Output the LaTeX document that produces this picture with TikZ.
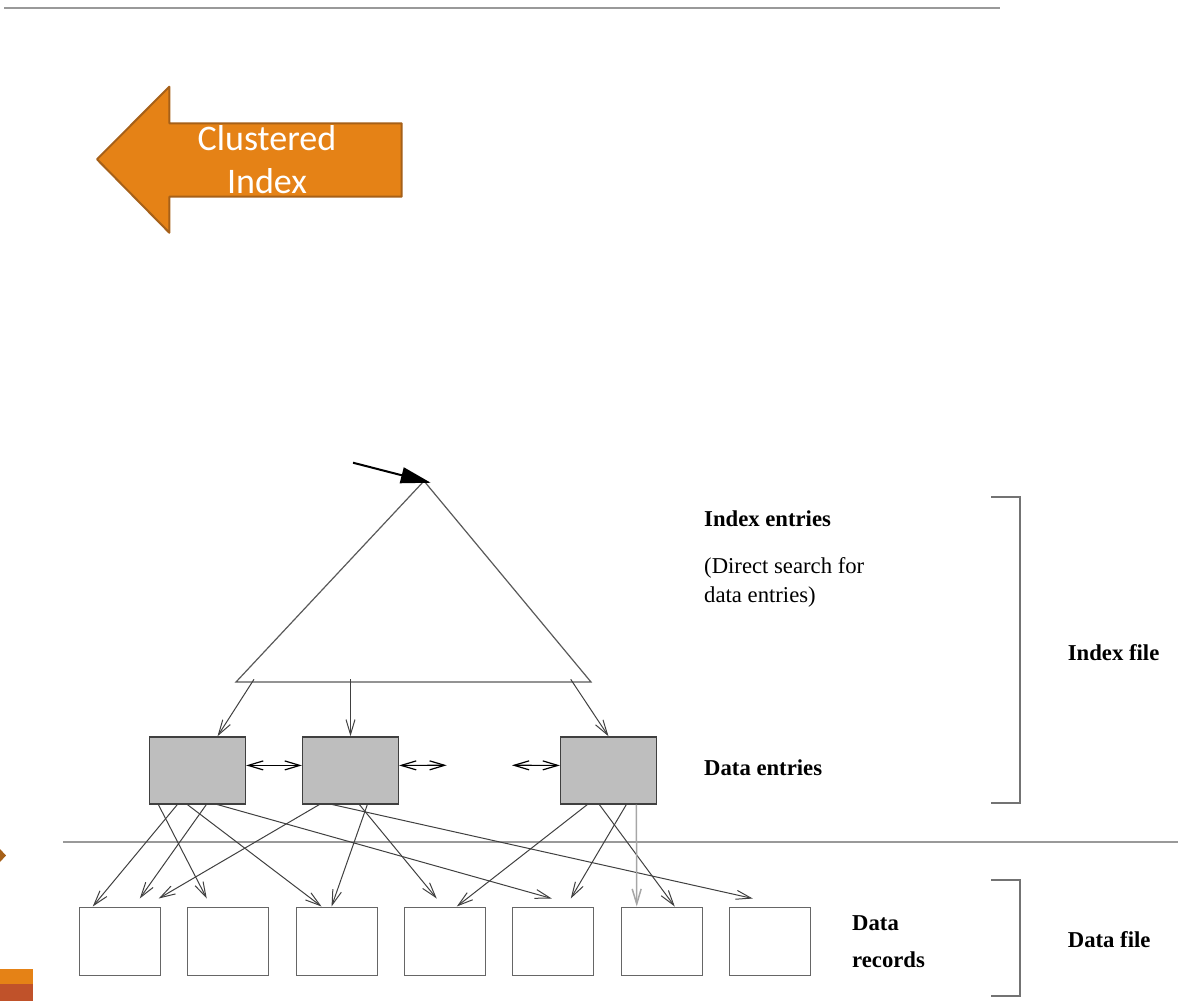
\documentclass[tikz,border=0pt]{standalone}
\usepackage{fontspec}
\setmainfont{Liberation Serif}
\newfontfamily\calfont{Carlito}
\usetikzlibrary{arrows.meta}
\definecolor{clusfill}{RGB}{229,130,22}
\definecolor{clusedge}{RGB}{166,96,24}
\definecolor{barbrown}{RGB}{192,82,42}
\definecolor{entrygray}{RGB}{190,190,190}

\begin{document}
\begin{tikzpicture}[x=1pt, y=-1pt,
    entry/.style={draw=black!75, line width=1.3pt, fill=entrygray, minimum width=96pt, minimum height=67pt, inner sep=0pt},
    record/.style={draw=black!60, line width=1pt, fill=white, minimum width=81pt, minimum height=68pt, inner sep=0pt},
    link/.style={draw=black!75, line width=1pt, -{Straight Barb[length=15pt,width=9pt]}},
    sidelink/.style={draw=black, line width=1.2pt, {Straight Barb[length=15pt,width=9pt]}-{Straight Barb[length=15pt,width=9pt]}},
    lbl/.style={anchor=base west, inner sep=0pt, font=\fontsize{22.7}{29}\selectfont},
    rule/.style={draw=black!40, line width=2pt},
    bracket/.style={draw=black!55, line width=1.5pt},
    ]
    \useasboundingbox (0, 0) rectangle (1178, 1001);
    % slide decoration
    \draw [rule] (4, 8) to (1000, 8);
    \draw [rule] (63, 842) to (1178, 842);
    \fill [clusedge] (0, 849) -- (6, 855.5) -- (0, 862) -- cycle;
    \fill [clusfill] (0, 969) rectangle (33, 984);
    \fill [barbrown] (0, 984) rectangle (33, 1001);
    % big arrow
    \draw [fill=clusfill, draw=clusedge, line width=2pt, line join=round]
        (97, 159.3) -- (169.3, 86.7) -- (169.3, 123.3) -- (401.7, 123.3)
        -- (401.7, 196.7) -- (169.3, 196.7) -- (169.3, 232.7) -- cycle;
    \node [align=center, anchor=base, inner sep=0pt, text=white,
        font=\calfont\fontsize{36}{43.3}\selectfont] (clus) at (267, 193.3) {Clustered\\Index};
    % index tree
    \coordinate (root) at (353, 462.7);
    \coordinate (apex) at (424, 481);
    \coordinate (bl) at (236, 682);
    \coordinate (br) at (591, 682);
    \draw [draw=black!65, line width=1.2pt] (apex) -- (bl) -- (br) -- cycle;
    \draw [line width=2pt, -{Triangle[length=30pt,width=16pt]}, shorten >=-7pt] (root) to (apex);
    % data entries
    \node [entry] (de1) at (197.5, 770.4) {};
    \node [entry] (de2) at (350.5, 770.4) {};
    \node [entry] (de3) at (608.5, 770.4) {};
    \coordinate (b1) at (254, 679.3);
    \coordinate (b2) at (350.5, 679);
    \coordinate (b3) at (570.7, 679.3);
    \draw [link] (b1) to ([xshift=20]de1.north);
    \draw [link] (b2) to (de2.north);
    \draw [link] (b3) to (de3.north);
    \coordinate (gap1) at (446.7, 765.3);
    \coordinate (gap2) at (512, 765.3);
    \draw [sidelink] ([yshift=5]de1.east) to ([yshift=5]de2.west);
    \draw [sidelink] ([yshift=5]de2.east) to (gap1);
    \draw [sidelink] (gap2) to ([yshift=5]de3.west);
    % data records
    \node [record] (rec1) at (119.75, 941) {};
    \node [record] (rec2) at (228.15, 941) {};
    \node [record] (rec3) at (336.55, 941) {};
    \node [record] (rec4) at (444.95, 941) {};
    \node [record] (rec5) at (553.35, 941) {};
    \node [record] (rec6) at (661.75, 941) {};
    \node [record] (rec7) at (770.15, 941) {};
    % entries -> records
    \draw [link] ([xshift=9.5]de1.south west) to ([xshift=19.6,yshift=8]rec2.north west);
    \draw [link] ([xshift=28.5]de1.south west) to ([xshift=14]rec1.north west);
    \draw [link] ([xshift=38.5]de1.south west) to ([xshift=26]rec3.north west);
    \draw [link] ([xshift=57.5]de1.south west) to ([xshift=61,yshift=8]rec1.north west);
    \draw [link] ([xshift=68.5]de1.south west) to ([xshift=39.4,yshift=8]rec5.north west);
    \draw [link] ([xshift=17.5]de2.south west) to ([xshift=80,yshift=8]rec1.north west);
    \draw [link] ([xshift=30.5]de2.south west) to ([xshift=23.6,yshift=8]rec7.north west);
    \draw [link] ([xshift=65.5]de2.south west) to ([xshift=36]rec3.north west);
    \draw [link] ([xshift=57.5]de2.south west) to ([xshift=32.8,yshift=8]rec4.north west);
    \draw [link] ([xshift=27.5]de3.south west) to ([xshift=52.8]rec4.north west);
    \draw [link] ([xshift=39.5]de3.south west) to ([xshift=54]rec6.north west);
    \draw [link] ([xshift=66.5]de3.south west) to ([xshift=58.4,yshift=8]rec5.north west);
    \draw [link, draw=black!35, line width=1.5pt] ([xshift=76.5]de3.south west) to ([xshift=16]rec6.north west);
    % labels
    \node [lbl] (ie) at (704, 526) {\bfseries Index entries};
    \node [lbl, align=left] (ds) at (704, 602) {(Direct search for\\data entries)};
    \node [lbl] (den) at (704, 775) {\bfseries Data entries};
    \node [lbl, align=left] (dr) at (852, 967) {\bfseries Data\\[8pt]\bfseries records};
    \node [lbl] (ifile) at (1067.7, 660) {\bfseries Index file};
    \node [lbl] (dfile) at (1067.7, 947.3) {\bfseries Data file};
    % brackets
    \draw [bracket] (991, 497) -- (1020, 497) -- (1020, 803) -- (991, 803);
    \draw [bracket] (991, 880) -- (1020, 880) -- (1020, 996) -- (991, 996);
\end{tikzpicture}
\end{document}
